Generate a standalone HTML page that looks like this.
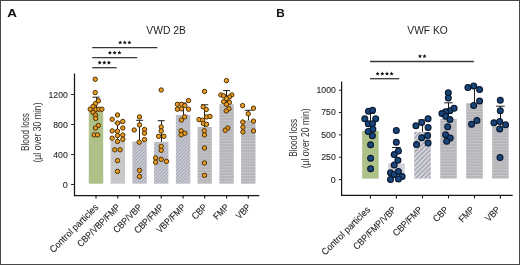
<!DOCTYPE html>
<html><head><meta charset="utf-8"><style>
html,body{margin:0;padding:0;background:#fff;}
.wrap{position:relative;width:520px;height:265px;box-sizing:border-box;border:1px solid #474747;overflow:hidden;background:#fff;}
svg{position:absolute;left:-1px;top:-1px;will-change:transform;font-family:"Liberation Sans", sans-serif;}
</style></head><body><div class="wrap">
<svg width="520" height="265" viewBox="0 0 520 265">
<defs>
<pattern id="diagA" width="2.4" height="2.4" patternUnits="userSpaceOnUse" patternTransform="rotate(45)"><rect width="2.4" height="2.4" fill="#d0d2dc"/><rect width="1.2" height="2.4" fill="#a8a8b2"/></pattern>
<pattern id="diagB" width="3.25" height="3.25" patternUnits="userSpaceOnUse" patternTransform="rotate(45)"><rect width="3.25" height="3.25" fill="#d6d7de"/><rect width="1.6" height="3.25" fill="#a8a9b2"/></pattern>
<pattern id="horiz" width="4" height="2.9" patternUnits="userSpaceOnUse"><rect width="4" height="2.9" fill="#b4b4b9"/><rect y="0.9" width="4" height="1.1" fill="#c6c6ca"/></pattern>
</defs>
<text transform="translate(7.3,17.4) scale(1.12,0.96)" font-size="12" font-weight="bold" fill="#111">A</text>
<text transform="translate(276.3,17.1) scale(0.98,0.98)" font-size="12" font-weight="bold" fill="#111">B</text>
<text x="146.3" y="33.8" font-size="10.2" fill="#222" textLength="39.5" lengthAdjust="spacingAndGlyphs">VWD 2B</text>
<text x="407.3" y="33.8" font-size="10.2" fill="#222" textLength="40.4" lengthAdjust="spacingAndGlyphs">VWF KO</text>
<rect x="88.80" y="110.60" width="14.40" height="73.10" fill="#adc189"/>
<rect x="110.60" y="141.00" width="14.40" height="42.70" fill="#c7c7c9"/>
<rect x="132.40" y="141.50" width="14.40" height="42.20" fill="url(#diagA)"/>
<rect x="154.00" y="141.80" width="14.40" height="41.90" fill="url(#diagA)"/>
<rect x="175.90" y="114.80" width="14.40" height="68.90" fill="url(#diagA)"/>
<rect x="197.50" y="127.00" width="14.40" height="56.70" fill="url(#horiz)"/>
<rect x="219.40" y="104.20" width="14.40" height="79.50" fill="url(#horiz)"/>
<rect x="241.10" y="120.30" width="14.40" height="63.40" fill="url(#horiz)"/>
<line x1="96.50" y1="97.20" x2="96.50" y2="110.60" stroke="#1c1c1c" stroke-width="1.0"/><line x1="92.50" y1="97.20" x2="99.50" y2="97.20" stroke="#1c1c1c" stroke-width="1.0"/>
<line x1="117.50" y1="123.00" x2="117.50" y2="141.00" stroke="#1c1c1c" stroke-width="1.0"/><line x1="114.30" y1="123.00" x2="121.30" y2="123.00" stroke="#1c1c1c" stroke-width="1.0"/>
<line x1="139.50" y1="120.30" x2="139.50" y2="141.50" stroke="#1c1c1c" stroke-width="1.0"/><line x1="136.10" y1="120.30" x2="143.10" y2="120.30" stroke="#1c1c1c" stroke-width="1.0"/>
<line x1="161.50" y1="120.70" x2="161.50" y2="141.80" stroke="#1c1c1c" stroke-width="1.0"/><line x1="157.70" y1="120.70" x2="164.70" y2="120.70" stroke="#1c1c1c" stroke-width="1.0"/>
<line x1="183.50" y1="103.00" x2="183.50" y2="114.80" stroke="#1c1c1c" stroke-width="1.0"/><line x1="179.60" y1="103.00" x2="186.60" y2="103.00" stroke="#1c1c1c" stroke-width="1.0"/>
<line x1="204.50" y1="104.80" x2="204.50" y2="127.00" stroke="#1c1c1c" stroke-width="1.0"/><line x1="201.20" y1="104.80" x2="208.20" y2="104.80" stroke="#1c1c1c" stroke-width="1.0"/>
<line x1="226.50" y1="90.60" x2="226.50" y2="104.20" stroke="#1c1c1c" stroke-width="1.0"/><line x1="223.10" y1="90.60" x2="230.10" y2="90.60" stroke="#1c1c1c" stroke-width="1.0"/>
<line x1="248.50" y1="110.30" x2="248.50" y2="120.30" stroke="#1c1c1c" stroke-width="1.0"/><line x1="244.80" y1="110.30" x2="251.80" y2="110.30" stroke="#1c1c1c" stroke-width="1.0"/>
<line x1="74.50" y1="73.50" x2="74.50" y2="196.10" stroke="#151515" stroke-width="1.25"/>
<line x1="73.88" y1="195.50" x2="259.30" y2="195.50" stroke="#151515" stroke-width="1.25"/>
<line x1="71.10" y1="184.50" x2="74.50" y2="184.50" stroke="#222" stroke-width="1"/>
<text x="67.80" y="188.10" font-size="9.4" textLength="4.98" lengthAdjust="spacingAndGlyphs" fill="#2a2a2a" stroke="#2a2a2a" stroke-width="0.12" text-anchor="end">0</text>
<line x1="71.10" y1="154.50" x2="74.50" y2="154.50" stroke="#222" stroke-width="1"/>
<text x="67.80" y="158.10" font-size="9.4" textLength="14.54" lengthAdjust="spacingAndGlyphs" fill="#2a2a2a" stroke="#2a2a2a" stroke-width="0.12" text-anchor="end">400</text>
<line x1="71.10" y1="124.50" x2="74.50" y2="124.50" stroke="#222" stroke-width="1"/>
<text x="67.80" y="128.10" font-size="9.4" textLength="14.54" lengthAdjust="spacingAndGlyphs" fill="#2a2a2a" stroke="#2a2a2a" stroke-width="0.12" text-anchor="end">800</text>
<line x1="71.10" y1="94.50" x2="74.50" y2="94.50" stroke="#222" stroke-width="1"/>
<text x="67.80" y="98.10" font-size="9.4" textLength="19.33" lengthAdjust="spacingAndGlyphs" fill="#2a2a2a" stroke="#2a2a2a" stroke-width="0.12" text-anchor="end">1200</text>
<line x1="96.00" y1="195.50" x2="96.00" y2="198.50" stroke="#151515" stroke-width="1.1"/>
<line x1="117.80" y1="195.50" x2="117.80" y2="198.50" stroke="#151515" stroke-width="1.1"/>
<line x1="139.60" y1="195.50" x2="139.60" y2="198.50" stroke="#151515" stroke-width="1.1"/>
<line x1="161.20" y1="195.50" x2="161.20" y2="198.50" stroke="#151515" stroke-width="1.1"/>
<line x1="183.10" y1="195.50" x2="183.10" y2="198.50" stroke="#151515" stroke-width="1.1"/>
<line x1="204.70" y1="195.50" x2="204.70" y2="198.50" stroke="#151515" stroke-width="1.1"/>
<line x1="226.60" y1="195.50" x2="226.60" y2="198.50" stroke="#151515" stroke-width="1.1"/>
<line x1="248.30" y1="195.50" x2="248.30" y2="198.50" stroke="#151515" stroke-width="1.1"/>
<text transform="translate(99.00,207.80) rotate(-45)" font-size="9.5" fill="#1e1e1e" stroke="#1e1e1e" stroke-width="0.1" text-anchor="end" textLength="64.29" lengthAdjust="spacingAndGlyphs">Control particles</text>
<text transform="translate(120.80,207.80) rotate(-45)" font-size="9.5" fill="#1e1e1e" stroke="#1e1e1e" stroke-width="0.1" text-anchor="end" textLength="56.25" lengthAdjust="spacingAndGlyphs">CBP/VBP/FMP</text>
<text transform="translate(142.60,207.80) rotate(-45)" font-size="9.5" fill="#1e1e1e" stroke="#1e1e1e" stroke-width="0.1" text-anchor="end" textLength="36.27" lengthAdjust="spacingAndGlyphs">CBP/VBP</text>
<text transform="translate(164.20,207.80) rotate(-45)" font-size="9.5" fill="#1e1e1e" stroke="#1e1e1e" stroke-width="0.1" text-anchor="end" textLength="37.19" lengthAdjust="spacingAndGlyphs">CBP/FMP</text>
<text transform="translate(186.10,207.80) rotate(-45)" font-size="9.5" fill="#1e1e1e" stroke="#1e1e1e" stroke-width="0.1" text-anchor="end" textLength="36.73" lengthAdjust="spacingAndGlyphs">VBP/FMP</text>
<text transform="translate(207.70,207.80) rotate(-45)" font-size="9.5" fill="#1e1e1e" stroke="#1e1e1e" stroke-width="0.1" text-anchor="end" textLength="17.20" lengthAdjust="spacingAndGlyphs">CBP</text>
<text transform="translate(229.60,207.80) rotate(-45)" font-size="9.5" fill="#1e1e1e" stroke="#1e1e1e" stroke-width="0.1" text-anchor="end" textLength="17.66" lengthAdjust="spacingAndGlyphs">FMP</text>
<text transform="translate(251.30,207.80) rotate(-45)" font-size="9.5" fill="#1e1e1e" stroke="#1e1e1e" stroke-width="0.1" text-anchor="end" textLength="16.74" lengthAdjust="spacingAndGlyphs">VBP</text>
<text transform="translate(29.10,132.00) rotate(-90)" font-size="10.6" fill="#333" text-anchor="middle" textLength="38.0" lengthAdjust="spacingAndGlyphs">Blood loss</text>
<text transform="translate(40.90,132.50) rotate(-90)" font-size="10.6" fill="#333" text-anchor="middle" textLength="60.0" lengthAdjust="spacingAndGlyphs">(µl over 30 min)</text>
<circle cx="95.20" cy="79.20" r="2.2" fill="#e69c26" stroke="#4f3000" stroke-width="1.0"/>
<circle cx="95.20" cy="92.60" r="2.2" fill="#e69c26" stroke="#4f3000" stroke-width="1.0"/>
<circle cx="98.40" cy="100.80" r="2.2" fill="#e69c26" stroke="#4f3000" stroke-width="1.0"/>
<circle cx="95.50" cy="103.60" r="2.2" fill="#e69c26" stroke="#4f3000" stroke-width="1.0"/>
<circle cx="93.10" cy="106.40" r="2.2" fill="#e69c26" stroke="#4f3000" stroke-width="1.0"/>
<circle cx="90.20" cy="109.20" r="2.2" fill="#e69c26" stroke="#4f3000" stroke-width="1.0"/>
<circle cx="95.70" cy="109.50" r="2.2" fill="#e69c26" stroke="#4f3000" stroke-width="1.0"/>
<circle cx="98.90" cy="109.20" r="2.2" fill="#e69c26" stroke="#4f3000" stroke-width="1.0"/>
<circle cx="101.90" cy="109.20" r="2.2" fill="#e69c26" stroke="#4f3000" stroke-width="1.0"/>
<circle cx="93.10" cy="112.40" r="2.2" fill="#e69c26" stroke="#4f3000" stroke-width="1.0"/>
<circle cx="95.50" cy="115.00" r="2.2" fill="#e69c26" stroke="#4f3000" stroke-width="1.0"/>
<circle cx="95.70" cy="118.40" r="2.2" fill="#e69c26" stroke="#4f3000" stroke-width="1.0"/>
<circle cx="98.40" cy="125.40" r="2.2" fill="#e69c26" stroke="#4f3000" stroke-width="1.0"/>
<circle cx="95.50" cy="128.00" r="2.2" fill="#e69c26" stroke="#4f3000" stroke-width="1.0"/>
<circle cx="94.20" cy="134.90" r="2.2" fill="#e69c26" stroke="#4f3000" stroke-width="1.0"/>
<circle cx="97.60" cy="134.90" r="2.2" fill="#e69c26" stroke="#4f3000" stroke-width="1.0"/>
<circle cx="117.50" cy="115.00" r="2.2" fill="#e69c26" stroke="#4f3000" stroke-width="1.0"/>
<circle cx="112.20" cy="119.30" r="2.2" fill="#e69c26" stroke="#4f3000" stroke-width="1.0"/>
<circle cx="122.80" cy="121.40" r="2.2" fill="#e69c26" stroke="#4f3000" stroke-width="1.0"/>
<circle cx="117.70" cy="123.00" r="2.2" fill="#e69c26" stroke="#4f3000" stroke-width="1.0"/>
<circle cx="122.80" cy="128.00" r="2.2" fill="#e69c26" stroke="#4f3000" stroke-width="1.0"/>
<circle cx="112.20" cy="130.90" r="2.2" fill="#e69c26" stroke="#4f3000" stroke-width="1.0"/>
<circle cx="117.50" cy="131.20" r="2.2" fill="#e69c26" stroke="#4f3000" stroke-width="1.0"/>
<circle cx="117.50" cy="135.60" r="2.2" fill="#e69c26" stroke="#4f3000" stroke-width="1.0"/>
<circle cx="122.80" cy="135.00" r="2.2" fill="#e69c26" stroke="#4f3000" stroke-width="1.0"/>
<circle cx="112.20" cy="138.20" r="2.2" fill="#e69c26" stroke="#4f3000" stroke-width="1.0"/>
<circle cx="122.80" cy="139.30" r="2.2" fill="#e69c26" stroke="#4f3000" stroke-width="1.0"/>
<circle cx="117.50" cy="141.40" r="2.2" fill="#e69c26" stroke="#4f3000" stroke-width="1.0"/>
<circle cx="114.80" cy="149.80" r="2.2" fill="#e69c26" stroke="#4f3000" stroke-width="1.0"/>
<circle cx="120.10" cy="149.80" r="2.2" fill="#e69c26" stroke="#4f3000" stroke-width="1.0"/>
<circle cx="117.50" cy="160.60" r="2.2" fill="#e69c26" stroke="#4f3000" stroke-width="1.0"/>
<circle cx="117.50" cy="171.40" r="2.2" fill="#e69c26" stroke="#4f3000" stroke-width="1.0"/>
<circle cx="139.50" cy="116.90" r="2.2" fill="#e69c26" stroke="#4f3000" stroke-width="1.0"/>
<circle cx="139.50" cy="124.90" r="2.2" fill="#e69c26" stroke="#4f3000" stroke-width="1.0"/>
<circle cx="134.20" cy="130.00" r="2.2" fill="#e69c26" stroke="#4f3000" stroke-width="1.0"/>
<circle cx="144.50" cy="129.50" r="2.2" fill="#e69c26" stroke="#4f3000" stroke-width="1.0"/>
<circle cx="144.50" cy="133.20" r="2.2" fill="#e69c26" stroke="#4f3000" stroke-width="1.0"/>
<circle cx="144.50" cy="139.60" r="2.2" fill="#e69c26" stroke="#4f3000" stroke-width="1.0"/>
<circle cx="139.20" cy="142.20" r="2.2" fill="#e69c26" stroke="#4f3000" stroke-width="1.0"/>
<circle cx="139.50" cy="170.40" r="2.2" fill="#e69c26" stroke="#4f3000" stroke-width="1.0"/>
<circle cx="139.50" cy="176.50" r="2.2" fill="#e69c26" stroke="#4f3000" stroke-width="1.0"/>
<circle cx="161.20" cy="90.00" r="2.2" fill="#e69c26" stroke="#4f3000" stroke-width="1.0"/>
<circle cx="161.20" cy="127.00" r="2.2" fill="#e69c26" stroke="#4f3000" stroke-width="1.0"/>
<circle cx="161.20" cy="131.00" r="2.2" fill="#e69c26" stroke="#4f3000" stroke-width="1.0"/>
<circle cx="158.60" cy="136.30" r="2.2" fill="#e69c26" stroke="#4f3000" stroke-width="1.0"/>
<circle cx="163.90" cy="136.30" r="2.2" fill="#e69c26" stroke="#4f3000" stroke-width="1.0"/>
<circle cx="161.20" cy="146.40" r="2.2" fill="#e69c26" stroke="#4f3000" stroke-width="1.0"/>
<circle cx="161.20" cy="150.30" r="2.2" fill="#e69c26" stroke="#4f3000" stroke-width="1.0"/>
<circle cx="155.60" cy="157.90" r="2.2" fill="#e69c26" stroke="#4f3000" stroke-width="1.0"/>
<circle cx="161.20" cy="159.30" r="2.2" fill="#e69c26" stroke="#4f3000" stroke-width="1.0"/>
<circle cx="155.60" cy="162.20" r="2.2" fill="#e69c26" stroke="#4f3000" stroke-width="1.0"/>
<circle cx="166.50" cy="161.40" r="2.2" fill="#e69c26" stroke="#4f3000" stroke-width="1.0"/>
<circle cx="188.50" cy="100.60" r="2.2" fill="#e69c26" stroke="#4f3000" stroke-width="1.0"/>
<circle cx="177.40" cy="104.30" r="2.2" fill="#e69c26" stroke="#4f3000" stroke-width="1.0"/>
<circle cx="181.40" cy="104.30" r="2.2" fill="#e69c26" stroke="#4f3000" stroke-width="1.0"/>
<circle cx="184.80" cy="105.60" r="2.2" fill="#e69c26" stroke="#4f3000" stroke-width="1.0"/>
<circle cx="177.40" cy="109.20" r="2.2" fill="#e69c26" stroke="#4f3000" stroke-width="1.0"/>
<circle cx="181.40" cy="108.80" r="2.2" fill="#e69c26" stroke="#4f3000" stroke-width="1.0"/>
<circle cx="188.50" cy="109.20" r="2.2" fill="#e69c26" stroke="#4f3000" stroke-width="1.0"/>
<circle cx="184.60" cy="116.90" r="2.2" fill="#e69c26" stroke="#4f3000" stroke-width="1.0"/>
<circle cx="181.40" cy="120.00" r="2.2" fill="#e69c26" stroke="#4f3000" stroke-width="1.0"/>
<circle cx="181.10" cy="130.80" r="2.2" fill="#e69c26" stroke="#4f3000" stroke-width="1.0"/>
<circle cx="184.80" cy="133.20" r="2.2" fill="#e69c26" stroke="#4f3000" stroke-width="1.0"/>
<circle cx="181.10" cy="134.80" r="2.2" fill="#e69c26" stroke="#4f3000" stroke-width="1.0"/>
<circle cx="204.50" cy="91.40" r="2.2" fill="#e69c26" stroke="#4f3000" stroke-width="1.0"/>
<circle cx="203.20" cy="106.90" r="2.2" fill="#e69c26" stroke="#4f3000" stroke-width="1.0"/>
<circle cx="206.30" cy="109.50" r="2.2" fill="#e69c26" stroke="#4f3000" stroke-width="1.0"/>
<circle cx="206.60" cy="116.90" r="2.2" fill="#e69c26" stroke="#4f3000" stroke-width="1.0"/>
<circle cx="210.00" cy="116.40" r="2.2" fill="#e69c26" stroke="#4f3000" stroke-width="1.0"/>
<circle cx="199.00" cy="119.60" r="2.2" fill="#e69c26" stroke="#4f3000" stroke-width="1.0"/>
<circle cx="202.60" cy="120.20" r="2.2" fill="#e69c26" stroke="#4f3000" stroke-width="1.0"/>
<circle cx="203.40" cy="123.50" r="2.2" fill="#e69c26" stroke="#4f3000" stroke-width="1.0"/>
<circle cx="206.60" cy="124.30" r="2.2" fill="#e69c26" stroke="#4f3000" stroke-width="1.0"/>
<circle cx="204.30" cy="130.70" r="2.2" fill="#e69c26" stroke="#4f3000" stroke-width="1.0"/>
<circle cx="204.50" cy="134.90" r="2.2" fill="#e69c26" stroke="#4f3000" stroke-width="1.0"/>
<circle cx="204.50" cy="147.90" r="2.2" fill="#e69c26" stroke="#4f3000" stroke-width="1.0"/>
<circle cx="204.40" cy="163.00" r="2.2" fill="#e69c26" stroke="#4f3000" stroke-width="1.0"/>
<circle cx="204.50" cy="175.30" r="2.2" fill="#e69c26" stroke="#4f3000" stroke-width="1.0"/>
<circle cx="226.50" cy="80.60" r="2.2" fill="#e69c26" stroke="#4f3000" stroke-width="1.0"/>
<circle cx="220.90" cy="94.90" r="2.2" fill="#e69c26" stroke="#4f3000" stroke-width="1.0"/>
<circle cx="223.60" cy="95.90" r="2.2" fill="#e69c26" stroke="#4f3000" stroke-width="1.0"/>
<circle cx="231.80" cy="94.90" r="2.2" fill="#e69c26" stroke="#4f3000" stroke-width="1.0"/>
<circle cx="229.40" cy="97.00" r="2.2" fill="#e69c26" stroke="#4f3000" stroke-width="1.0"/>
<circle cx="226.50" cy="98.60" r="2.2" fill="#e69c26" stroke="#4f3000" stroke-width="1.0"/>
<circle cx="223.60" cy="101.70" r="2.2" fill="#e69c26" stroke="#4f3000" stroke-width="1.0"/>
<circle cx="229.40" cy="102.30" r="2.2" fill="#e69c26" stroke="#4f3000" stroke-width="1.0"/>
<circle cx="226.50" cy="104.40" r="2.2" fill="#e69c26" stroke="#4f3000" stroke-width="1.0"/>
<circle cx="228.90" cy="108.80" r="2.2" fill="#e69c26" stroke="#4f3000" stroke-width="1.0"/>
<circle cx="226.20" cy="110.90" r="2.2" fill="#e69c26" stroke="#4f3000" stroke-width="1.0"/>
<circle cx="227.80" cy="128.10" r="2.2" fill="#e69c26" stroke="#4f3000" stroke-width="1.0"/>
<circle cx="225.20" cy="130.20" r="2.2" fill="#e69c26" stroke="#4f3000" stroke-width="1.0"/>
<circle cx="242.60" cy="105.60" r="2.2" fill="#e69c26" stroke="#4f3000" stroke-width="1.0"/>
<circle cx="253.50" cy="108.20" r="2.2" fill="#e69c26" stroke="#4f3000" stroke-width="1.0"/>
<circle cx="248.20" cy="113.80" r="2.2" fill="#e69c26" stroke="#4f3000" stroke-width="1.0"/>
<circle cx="242.80" cy="122.00" r="2.2" fill="#e69c26" stroke="#4f3000" stroke-width="1.0"/>
<circle cx="253.50" cy="121.10" r="2.2" fill="#e69c26" stroke="#4f3000" stroke-width="1.0"/>
<circle cx="242.90" cy="127.20" r="2.2" fill="#e69c26" stroke="#4f3000" stroke-width="1.0"/>
<circle cx="242.90" cy="131.90" r="2.2" fill="#e69c26" stroke="#4f3000" stroke-width="1.0"/>
<circle cx="253.50" cy="130.90" r="2.2" fill="#e69c26" stroke="#4f3000" stroke-width="1.0"/>
<rect x="362.10" y="130.90" width="16.60" height="47.70" fill="#adc189"/>
<rect x="388.10" y="163.50" width="16.60" height="15.10" fill="#d4d1d6"/>
<rect x="414.20" y="131.90" width="16.60" height="46.70" fill="url(#diagB)"/>
<rect x="440.20" y="119.00" width="16.60" height="59.60" fill="url(#horiz)"/>
<rect x="466.20" y="103.20" width="16.60" height="75.40" fill="url(#horiz)"/>
<rect x="492.10" y="125.90" width="16.60" height="52.70" fill="url(#horiz)"/>
<line x1="370.50" y1="113.50" x2="370.50" y2="130.90" stroke="#1c1c1c" stroke-width="1.0"/><line x1="366.10" y1="113.50" x2="374.70" y2="113.50" stroke="#1c1c1c" stroke-width="1.0"/>
<line x1="396.50" y1="147.50" x2="396.50" y2="163.50" stroke="#1c1c1c" stroke-width="1.0"/><line x1="392.10" y1="147.50" x2="400.70" y2="147.50" stroke="#1c1c1c" stroke-width="1.0"/>
<line x1="422.50" y1="120.00" x2="422.50" y2="131.90" stroke="#1c1c1c" stroke-width="1.0"/><line x1="418.20" y1="120.00" x2="426.80" y2="120.00" stroke="#1c1c1c" stroke-width="1.0"/>
<line x1="448.50" y1="102.80" x2="448.50" y2="119.00" stroke="#1c1c1c" stroke-width="1.0"/><line x1="444.20" y1="102.80" x2="452.80" y2="102.80" stroke="#1c1c1c" stroke-width="1.0"/>
<line x1="474.50" y1="87.00" x2="474.50" y2="103.20" stroke="#1c1c1c" stroke-width="1.0"/><line x1="470.20" y1="87.00" x2="478.80" y2="87.00" stroke="#1c1c1c" stroke-width="1.0"/>
<line x1="500.50" y1="106.20" x2="500.50" y2="125.90" stroke="#1c1c1c" stroke-width="1.0"/><line x1="496.10" y1="106.20" x2="504.70" y2="106.20" stroke="#1c1c1c" stroke-width="1.0"/>
<line x1="341.60" y1="81.50" x2="341.60" y2="196.00" stroke="#151515" stroke-width="1.25"/>
<line x1="340.98" y1="195.40" x2="512.70" y2="195.40" stroke="#151515" stroke-width="1.25"/>
<line x1="338.80" y1="179.60" x2="341.60" y2="179.60" stroke="#222" stroke-width="1"/>
<text x="335.80" y="182.50" font-size="9.4" textLength="4.98" lengthAdjust="spacingAndGlyphs" fill="#2a2a2a" stroke="#2a2a2a" stroke-width="0.12" text-anchor="end">0</text>
<line x1="338.80" y1="157.25" x2="341.60" y2="157.25" stroke="#222" stroke-width="1"/>
<text x="335.80" y="160.15" font-size="9.4" textLength="14.54" lengthAdjust="spacingAndGlyphs" fill="#2a2a2a" stroke="#2a2a2a" stroke-width="0.12" text-anchor="end">250</text>
<line x1="338.80" y1="134.90" x2="341.60" y2="134.90" stroke="#222" stroke-width="1"/>
<text x="335.80" y="137.80" font-size="9.4" textLength="14.54" lengthAdjust="spacingAndGlyphs" fill="#2a2a2a" stroke="#2a2a2a" stroke-width="0.12" text-anchor="end">500</text>
<line x1="338.80" y1="112.55" x2="341.60" y2="112.55" stroke="#222" stroke-width="1"/>
<text x="335.80" y="115.45" font-size="9.4" textLength="14.54" lengthAdjust="spacingAndGlyphs" fill="#2a2a2a" stroke="#2a2a2a" stroke-width="0.12" text-anchor="end">750</text>
<line x1="338.80" y1="90.20" x2="341.60" y2="90.20" stroke="#222" stroke-width="1"/>
<text x="335.80" y="93.10" font-size="9.4" textLength="19.33" lengthAdjust="spacingAndGlyphs" fill="#2a2a2a" stroke="#2a2a2a" stroke-width="0.12" text-anchor="end">1000</text>
<line x1="370.40" y1="195.40" x2="370.40" y2="198.40" stroke="#151515" stroke-width="1.1"/>
<line x1="396.40" y1="195.40" x2="396.40" y2="198.40" stroke="#151515" stroke-width="1.1"/>
<line x1="422.50" y1="195.40" x2="422.50" y2="198.40" stroke="#151515" stroke-width="1.1"/>
<line x1="448.50" y1="195.40" x2="448.50" y2="198.40" stroke="#151515" stroke-width="1.1"/>
<line x1="474.50" y1="195.40" x2="474.50" y2="198.40" stroke="#151515" stroke-width="1.1"/>
<line x1="500.40" y1="195.40" x2="500.40" y2="198.40" stroke="#151515" stroke-width="1.1"/>
<text transform="translate(370.80,210.40) rotate(-45)" font-size="9.5" fill="#1e1e1e" stroke="#1e1e1e" stroke-width="0.1" text-anchor="end" textLength="64.29" lengthAdjust="spacingAndGlyphs">Control particles</text>
<text transform="translate(396.80,210.40) rotate(-45)" font-size="9.5" fill="#1e1e1e" stroke="#1e1e1e" stroke-width="0.1" text-anchor="end" textLength="56.25" lengthAdjust="spacingAndGlyphs">CBP/FMP/VBP</text>
<text transform="translate(422.90,210.40) rotate(-45)" font-size="9.5" fill="#1e1e1e" stroke="#1e1e1e" stroke-width="0.1" text-anchor="end" textLength="37.19" lengthAdjust="spacingAndGlyphs">CBP/FMP</text>
<text transform="translate(448.90,210.40) rotate(-45)" font-size="9.5" fill="#1e1e1e" stroke="#1e1e1e" stroke-width="0.1" text-anchor="end" textLength="17.20" lengthAdjust="spacingAndGlyphs">CBP</text>
<text transform="translate(474.90,210.40) rotate(-45)" font-size="9.5" fill="#1e1e1e" stroke="#1e1e1e" stroke-width="0.1" text-anchor="end" textLength="17.66" lengthAdjust="spacingAndGlyphs">FMP</text>
<text transform="translate(500.80,210.40) rotate(-45)" font-size="9.5" fill="#1e1e1e" stroke="#1e1e1e" stroke-width="0.1" text-anchor="end" textLength="16.74" lengthAdjust="spacingAndGlyphs">VBP</text>
<text transform="translate(297.00,137.80) rotate(-90)" font-size="10.6" fill="#333" text-anchor="middle" textLength="38.0" lengthAdjust="spacingAndGlyphs">Blood loss</text>
<text transform="translate(308.80,138.30) rotate(-90)" font-size="10.6" fill="#333" text-anchor="middle" textLength="60.0" lengthAdjust="spacingAndGlyphs">(µl over 20 min)</text>
<circle cx="368.50" cy="111.20" r="2.9" fill="#19477c" stroke="#0a1a32" stroke-width="1.2"/>
<circle cx="372.60" cy="110.30" r="2.9" fill="#19477c" stroke="#0a1a32" stroke-width="1.2"/>
<circle cx="364.80" cy="118.80" r="2.9" fill="#19477c" stroke="#0a1a32" stroke-width="1.2"/>
<circle cx="375.70" cy="118.80" r="2.9" fill="#19477c" stroke="#0a1a32" stroke-width="1.2"/>
<circle cx="368.30" cy="123.80" r="2.9" fill="#19477c" stroke="#0a1a32" stroke-width="1.2"/>
<circle cx="372.50" cy="123.80" r="2.9" fill="#19477c" stroke="#0a1a32" stroke-width="1.2"/>
<circle cx="372.90" cy="129.30" r="2.9" fill="#19477c" stroke="#0a1a32" stroke-width="1.2"/>
<circle cx="368.20" cy="131.40" r="2.9" fill="#19477c" stroke="#0a1a32" stroke-width="1.2"/>
<circle cx="372.40" cy="135.80" r="2.9" fill="#19477c" stroke="#0a1a32" stroke-width="1.2"/>
<circle cx="370.60" cy="144.70" r="2.9" fill="#19477c" stroke="#0a1a32" stroke-width="1.2"/>
<circle cx="370.60" cy="158.30" r="2.9" fill="#19477c" stroke="#0a1a32" stroke-width="1.2"/>
<circle cx="370.60" cy="168.70" r="2.9" fill="#19477c" stroke="#0a1a32" stroke-width="1.2"/>
<circle cx="396.30" cy="130.60" r="2.9" fill="#19477c" stroke="#0a1a32" stroke-width="1.2"/>
<circle cx="396.30" cy="142.30" r="2.9" fill="#19477c" stroke="#0a1a32" stroke-width="1.2"/>
<circle cx="398.40" cy="150.90" r="2.9" fill="#19477c" stroke="#0a1a32" stroke-width="1.2"/>
<circle cx="394.20" cy="154.50" r="2.9" fill="#19477c" stroke="#0a1a32" stroke-width="1.2"/>
<circle cx="397.90" cy="160.20" r="2.9" fill="#19477c" stroke="#0a1a32" stroke-width="1.2"/>
<circle cx="394.20" cy="165.10" r="2.9" fill="#19477c" stroke="#0a1a32" stroke-width="1.2"/>
<circle cx="390.50" cy="172.80" r="2.9" fill="#19477c" stroke="#0a1a32" stroke-width="1.2"/>
<circle cx="394.20" cy="174.40" r="2.9" fill="#19477c" stroke="#0a1a32" stroke-width="1.2"/>
<circle cx="398.40" cy="171.50" r="2.9" fill="#19477c" stroke="#0a1a32" stroke-width="1.2"/>
<circle cx="402.10" cy="176.50" r="2.9" fill="#19477c" stroke="#0a1a32" stroke-width="1.2"/>
<circle cx="398.40" cy="178.90" r="2.9" fill="#19477c" stroke="#0a1a32" stroke-width="1.2"/>
<circle cx="390.50" cy="179.40" r="2.9" fill="#19477c" stroke="#0a1a32" stroke-width="1.2"/>
<circle cx="428.10" cy="118.70" r="2.9" fill="#19477c" stroke="#0a1a32" stroke-width="1.2"/>
<circle cx="421.70" cy="122.40" r="2.9" fill="#19477c" stroke="#0a1a32" stroke-width="1.2"/>
<circle cx="415.90" cy="125.80" r="2.9" fill="#19477c" stroke="#0a1a32" stroke-width="1.2"/>
<circle cx="428.10" cy="127.40" r="2.9" fill="#19477c" stroke="#0a1a32" stroke-width="1.2"/>
<circle cx="421.70" cy="137.70" r="2.9" fill="#19477c" stroke="#0a1a32" stroke-width="1.2"/>
<circle cx="427.60" cy="135.60" r="2.9" fill="#19477c" stroke="#0a1a32" stroke-width="1.2"/>
<circle cx="428.10" cy="143.00" r="2.9" fill="#19477c" stroke="#0a1a32" stroke-width="1.2"/>
<circle cx="416.50" cy="144.60" r="2.9" fill="#19477c" stroke="#0a1a32" stroke-width="1.2"/>
<circle cx="448.30" cy="92.80" r="2.9" fill="#19477c" stroke="#0a1a32" stroke-width="1.2"/>
<circle cx="448.30" cy="98.00" r="2.9" fill="#19477c" stroke="#0a1a32" stroke-width="1.2"/>
<circle cx="454.10" cy="108.30" r="2.9" fill="#19477c" stroke="#0a1a32" stroke-width="1.2"/>
<circle cx="449.90" cy="110.80" r="2.9" fill="#19477c" stroke="#0a1a32" stroke-width="1.2"/>
<circle cx="445.60" cy="111.70" r="2.9" fill="#19477c" stroke="#0a1a32" stroke-width="1.2"/>
<circle cx="441.90" cy="113.50" r="2.9" fill="#19477c" stroke="#0a1a32" stroke-width="1.2"/>
<circle cx="445.60" cy="116.30" r="2.9" fill="#19477c" stroke="#0a1a32" stroke-width="1.2"/>
<circle cx="449.90" cy="119.50" r="2.9" fill="#19477c" stroke="#0a1a32" stroke-width="1.2"/>
<circle cx="447.70" cy="126.80" r="2.9" fill="#19477c" stroke="#0a1a32" stroke-width="1.2"/>
<circle cx="445.60" cy="134.80" r="2.9" fill="#19477c" stroke="#0a1a32" stroke-width="1.2"/>
<circle cx="450.20" cy="138.00" r="2.9" fill="#19477c" stroke="#0a1a32" stroke-width="1.2"/>
<circle cx="446.70" cy="141.20" r="2.9" fill="#19477c" stroke="#0a1a32" stroke-width="1.2"/>
<circle cx="467.90" cy="87.50" r="2.9" fill="#19477c" stroke="#0a1a32" stroke-width="1.2"/>
<circle cx="473.70" cy="85.90" r="2.9" fill="#19477c" stroke="#0a1a32" stroke-width="1.2"/>
<circle cx="479.60" cy="89.60" r="2.9" fill="#19477c" stroke="#0a1a32" stroke-width="1.2"/>
<circle cx="479.60" cy="101.00" r="2.9" fill="#19477c" stroke="#0a1a32" stroke-width="1.2"/>
<circle cx="473.70" cy="105.40" r="2.9" fill="#19477c" stroke="#0a1a32" stroke-width="1.2"/>
<circle cx="476.90" cy="120.60" r="2.9" fill="#19477c" stroke="#0a1a32" stroke-width="1.2"/>
<circle cx="471.60" cy="124.30" r="2.9" fill="#19477c" stroke="#0a1a32" stroke-width="1.2"/>
<circle cx="500.30" cy="100.20" r="2.9" fill="#19477c" stroke="#0a1a32" stroke-width="1.2"/>
<circle cx="500.30" cy="110.80" r="2.9" fill="#19477c" stroke="#0a1a32" stroke-width="1.2"/>
<circle cx="493.90" cy="122.70" r="2.9" fill="#19477c" stroke="#0a1a32" stroke-width="1.2"/>
<circle cx="499.70" cy="121.60" r="2.9" fill="#19477c" stroke="#0a1a32" stroke-width="1.2"/>
<circle cx="505.60" cy="124.80" r="2.9" fill="#19477c" stroke="#0a1a32" stroke-width="1.2"/>
<circle cx="499.70" cy="129.00" r="2.9" fill="#19477c" stroke="#0a1a32" stroke-width="1.2"/>
<circle cx="500.00" cy="157.60" r="2.9" fill="#19477c" stroke="#0a1a32" stroke-width="1.2"/>
<line x1="92.20" y1="47.70" x2="157.40" y2="47.70" stroke="#383838" stroke-width="1.3"/>
<polygon points="120.20,40.40 120.81,41.72 122.24,41.89 121.18,42.87 121.46,44.29 120.20,43.58 118.94,44.29 119.22,42.87 118.16,41.89 119.59,41.72" fill="#111"/>
<polygon points="124.80,40.40 125.41,41.72 126.84,41.89 125.78,42.87 126.06,44.29 124.80,43.58 123.54,44.29 123.82,42.87 122.76,41.89 124.19,41.72" fill="#111"/>
<polygon points="129.40,40.40 130.01,41.72 131.44,41.89 130.38,42.87 130.66,44.29 129.40,43.58 128.14,44.29 128.42,42.87 127.36,41.89 128.79,41.72" fill="#111"/>
<line x1="92.20" y1="57.70" x2="137.20" y2="57.70" stroke="#383838" stroke-width="1.3"/>
<polygon points="109.90,50.60 110.51,51.92 111.94,52.09 110.88,53.07 111.16,54.49 109.90,53.78 108.64,54.49 108.92,53.07 107.86,52.09 109.29,51.92" fill="#111"/>
<polygon points="114.60,50.60 115.21,51.92 116.64,52.09 115.58,53.07 115.86,54.49 114.60,53.78 113.34,54.49 113.62,53.07 112.56,52.09 113.99,51.92" fill="#111"/>
<polygon points="119.40,50.60 120.01,51.92 121.44,52.09 120.38,53.07 120.66,54.49 119.40,53.78 118.14,54.49 118.42,53.07 117.36,52.09 118.79,51.92" fill="#111"/>
<line x1="92.20" y1="67.70" x2="116.60" y2="67.70" stroke="#383838" stroke-width="1.3"/>
<polygon points="99.70,60.50 100.31,61.82 101.74,61.99 100.68,62.97 100.96,64.39 99.70,63.68 98.44,64.39 98.72,62.97 97.66,61.99 99.09,61.82" fill="#111"/>
<polygon points="104.30,60.50 104.91,61.82 106.34,61.99 105.28,62.97 105.56,64.39 104.30,63.68 103.04,64.39 103.32,62.97 102.26,61.99 103.69,61.82" fill="#111"/>
<polygon points="108.90,60.50 109.51,61.82 110.94,61.99 109.88,62.97 110.16,64.39 108.90,63.68 107.64,64.39 107.92,62.97 106.86,61.99 108.29,61.82" fill="#111"/>
<line x1="370.00" y1="61.50" x2="473.80" y2="61.50" stroke="#383838" stroke-width="1.3"/>
<polygon points="420.00,54.10 420.61,55.42 422.04,55.59 420.98,56.57 421.26,57.99 420.00,57.28 418.74,57.99 419.02,56.57 417.96,55.59 419.39,55.42" fill="#111"/>
<polygon points="424.50,54.10 425.11,55.42 426.54,55.59 425.48,56.57 425.76,57.99 424.50,57.28 423.24,57.99 423.52,56.57 422.46,55.59 423.89,55.42" fill="#111"/>
<line x1="370.00" y1="78.70" x2="399.30" y2="78.70" stroke="#383838" stroke-width="1.3"/>
<polygon points="377.60,71.60 378.21,72.92 379.64,73.09 378.58,74.07 378.86,75.49 377.60,74.78 376.34,75.49 376.62,74.07 375.56,73.09 376.99,72.92" fill="#111"/>
<polygon points="382.30,71.60 382.91,72.92 384.34,73.09 383.28,74.07 383.56,75.49 382.30,74.78 381.04,75.49 381.32,74.07 380.26,73.09 381.69,72.92" fill="#111"/>
<polygon points="387.00,71.60 387.61,72.92 389.04,73.09 387.98,74.07 388.26,75.49 387.00,74.78 385.74,75.49 386.02,74.07 384.96,73.09 386.39,72.92" fill="#111"/>
<polygon points="391.60,71.60 392.21,72.92 393.64,73.09 392.58,74.07 392.86,75.49 391.60,74.78 390.34,75.49 390.62,74.07 389.56,73.09 390.99,72.92" fill="#111"/>
</svg></div></body></html>
